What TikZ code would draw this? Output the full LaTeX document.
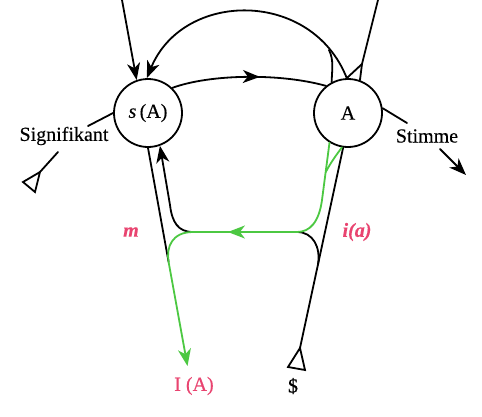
\documentclass[tikz,border=0pt]{standalone}
\usepackage{fontspec}
\setmainfont{Liberation Serif}
\usetikzlibrary{arrows.meta,decorations.markings}
\definecolor{lgreen}{RGB}{76,200,66}
\definecolor{lpink}{RGB}{233,68,112}
\begin{document}
\begin{tikzpicture}[x=1pt,y=-1pt,
  ln/.style={line width=1.8pt, line cap=round, line join=round},
  circ/.style={draw, circle, line width=1.8pt, minimum size=68pt, inner sep=0pt, font=\fontsize{20}{24}\selectfont\addfontfeature{FakeBold=0.3}},
  lbl/.style={font=\fontsize{20}{24}\selectfont\addfontfeature{FakeBold=0.3}, inner sep=0pt},
  plbl/.style={lbl, text=lpink},
  tip/.style={-{Stealth[length=17pt,width=13pt,inset=5pt]}},
  midarrow/.style={postaction={decorate}, decoration={markings, mark=at position #1 with {\arrow{Stealth[length=17pt,width=13pt,inset=5pt]}}}},
  tri/.style={line width=1.8pt, line join=miter, fill=white}
]
\useasboundingbox (0,0) rectangle (482,416);
\fill[white] (0,0) rectangle (482,416);

% circles
\node[circ] (sA) at (148,113) {\textit{s}\,(A)};
\node[circ] (A) at (348,113) {A};

% named coordinates
\coordinate (tl) at (122,0);
\coordinate (tr) at (378,0);
\coordinate (fk) at (362,64);
\coordinate (fs) at (329,50);
\coordinate (stA) at (407,123);
\coordinate (stB) at (440,149);
\coordinate (stC) at (466,175);
\coordinate (sgA) at (88,126);
\coordinate (sgB) at (58,152);
\coordinate (sgC) at (40,172);
\coordinate (hl) at (193,232);
\coordinate (hr) at (297,232);
\coordinate (jl) at (168.6,262);
\coordinate (jr) at (317.9,265);
\coordinate (gv) at (322,200);
\coordinate (gb) at (325.8,172);
\coordinate (bl) at (170,205);
\coordinate (IA) at (187.5,366);
\coordinate (dS) at (300,348);

% top lines
\draw[ln,tip] (tl) -- (sA.109);
\draw[ln,tip] (A.92) .. controls (311.7,-10.9) and (183.3,-9.9) .. (sA.92);
\draw[ln] (fs) .. controls (334,60) and (332,70) .. (A.118);
\draw[ln] (tr) -- (fk) -- (A.92);
\draw[ln] (fk) -- (A.70);
\draw[ln,midarrow=0.57] (sA.46) .. controls (210,74) and (280,73) .. (A.129);

% Stimme
\draw[ln] (A.8) -- (stA);
\node[lbl] (stimme) at (427,136) {Stimme};
\draw[ln,tip] (stB) -- (stC);

% Signifikant
\draw[ln] (sA.180) -- (sgA);
\node[lbl] (sig) at (64,136) {Signifikant};
\draw[ln] (sgB) -- (sgC);
\draw[tri] (sgC) -- (23,182) -- (35,192) -- cycle;

% lower black paths
\draw[ln] (sA.-90) -- (jl);
\draw[ln,tip] (hl) .. controls (178,232) and (172,222) .. (bl) -- (sA.-70);
\draw[ln] (hr) .. controls (313,232) and (321,247) .. (jr);
\draw[ln] (dS) -- (A.-98);
\draw[tri] (dS) -- (288,367) -- (305,370) -- cycle;

% green path
\draw[ln,lgreen,tip,midarrow=0.48] (A.-122) -- (gv) .. controls (319,222) and (310,232) .. (hr) -- (hl) .. controls (172,232) and (166,247) .. (jl) -- (IA);
\draw[ln,lgreen] (gb) .. controls (331,162) and (337,154) .. (A.-100);

% labels
\node[plbl] (m) at (131,232) {\bfseries\itshape m};
\node[plbl] (ia) at (357,232) {\bfseries\itshape i(a)};
\node[plbl] (IAl) at (194,386) {I (A)};
\node[lbl] (S) at (293,386) {\$};
\end{tikzpicture}
\end{document}
